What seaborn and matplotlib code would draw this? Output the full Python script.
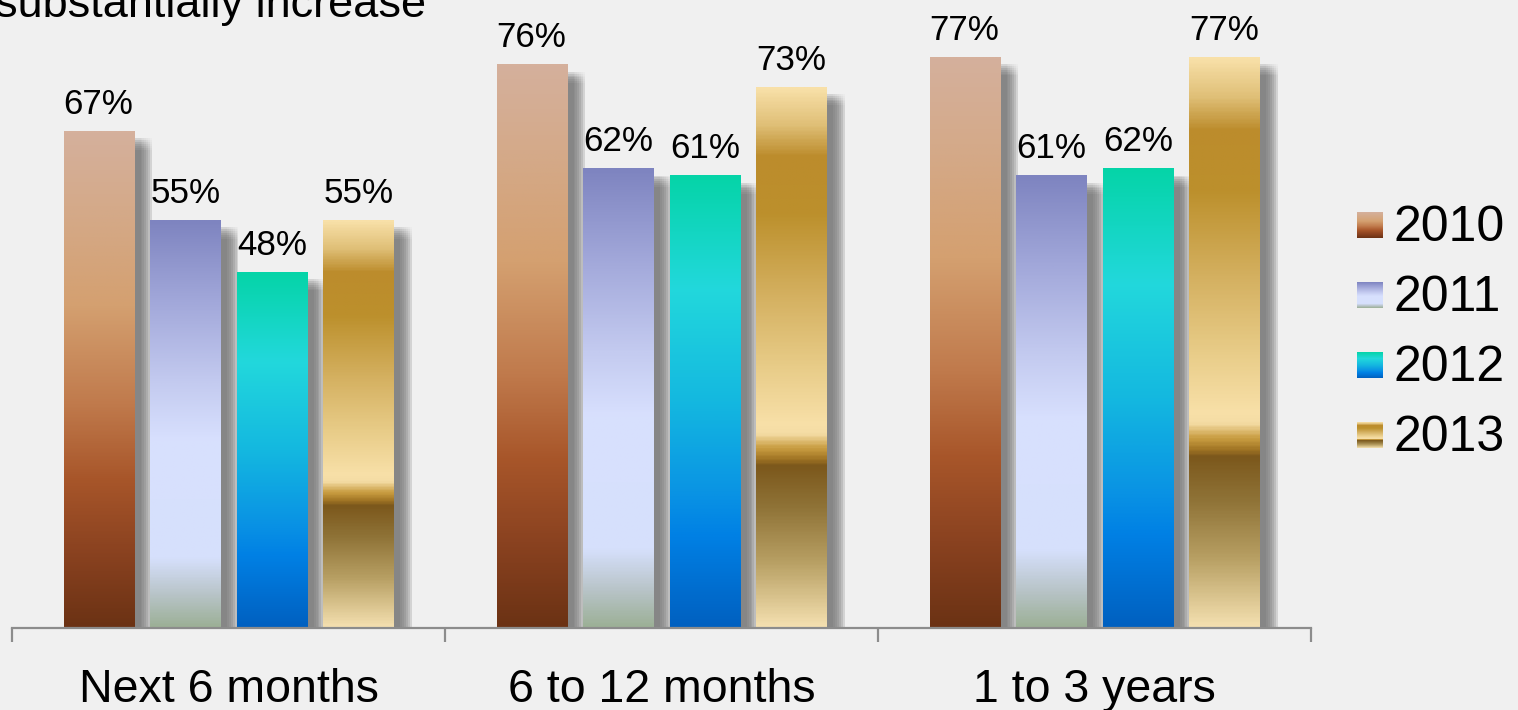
import numpy as np
import pandas as pd
import matplotlib
matplotlib.use("Agg")
import matplotlib.pyplot as plt
import seaborn as sns
from matplotlib.colors import LinearSegmentedColormap
from matplotlib import patheffects as pe
from matplotlib.legend_handler import HandlerBase
from matplotlib.image import BboxImage
from matplotlib.transforms import Bbox, TransformedBbox
from matplotlib.patches import Rectangle

# ---- data -------------------------------------------------------------
periods = ["Next 6 months", "6 to 12 months", "1 to 3 years"]
years = ["2010", "2011", "2012", "2013"]
share_2010 = [67, 76, 77]
share_2011 = [55, 62, 61]
share_2012 = [48, 61, 62]
share_2013 = [55, 73, 77]
series = [share_2010, share_2011, share_2012, share_2013]

df = pd.DataFrame(
    [(p, y, v) for y, vals in zip(years, series) for p, v in zip(periods, vals)],
    columns=["period", "year", "share"],
)

# ---- gradient fills, position 0 = bottom of bar, 1 = top --------------
stops = {
    "2010": [(0.00, "#6b3214"), (0.15, "#8a4220"), (0.30, "#a8562a"),
             (0.45, "#c07a4c"), (0.65, "#d4a070"), (0.85, "#d4aa8a"),
             (1.00, "#d5b09c")],
    "2011": [(0.00, "#9cb096"), (0.08, "#b8c4c8"), (0.17, "#d6e0fc"),
             (0.46, "#d8e0fe"), (0.60, "#c4cbf0"), (0.80, "#a2a8da"),
             (1.00, "#7e84c0")],
    "2012": [(0.00, "#0060c0"), (0.20, "#0080e4"), (0.30, "#0a94e4"),
             (0.50, "#14b8e0"), (0.75, "#22d8dc"), (1.00, "#05d4a8")],
    "2013": [(0.000, "#f4e0b0"), (0.119, "#b8a064"), (0.219, "#907438"),
             (0.298, "#7c581c"), (0.311, "#a07424"), (0.331, "#c89c40"),
             (0.358, "#f4dca4"), (0.377, "#f8e0a8"), (0.483, "#e8cc88"),
             (0.616, "#d4b060"), (0.768, "#bc902c"), (0.874, "#bc8c2c"),
             (0.934, "#e0c078"), (1.000, "#f8e0a8")],
}
cmaps = {y: LinearSegmentedColormap.from_list("fill_" + y, stops[y]) for y in years}
mid_colors = {y: cmaps[y](0.5) for y in years}
ramp = np.linspace(0, 1, 400).reshape(-1, 1)

BG = "#f0f0f0"
AXIS = "#8c8c8c"

sns.set_theme(style="white")
plt.rcParams["font.family"] = ["Liberation Sans", "DejaVu Sans"]

fig = plt.figure(figsize=(15.18, 7.10), dpi=100, facecolor=BG)
ax = fig.add_axes([12 / 1518, 82 / 710, 1299 / 1518, 628 / 710])
ax.set_facecolor(BG)

sns.barplot(data=df, x="period", y="share", hue="year", hue_order=years,
            palette=mid_colors, saturation=1, width=0.8, gap=0.19,
            errorbar=None, legend=False, linewidth=0, ax=ax)

# soft drop shadow built from several faint offset copies
spread = (-4, -2.7, -1.3, 0, 1.3, 2.7, 4)
shadow_fx = [pe.SimplePatchShadow(offset=(9 + dx, -9 + dy),
                                  shadow_rgbFace="#7c7c7c", alpha=0.034)
             for dx in spread for dy in spread]
shadow_fx.append(pe.Normal())

for year, cont in zip(years, ax.containers):
    for bar in cont:
        bar.set_path_effects(shadow_fx)
        x0, w, h = bar.get_x(), bar.get_width(), bar.get_height()
        ax.imshow(ramp, extent=(x0, x0 + w, 0, h), origin="lower",
                  aspect="auto", cmap=cmaps[year], zorder=3,
                  interpolation="bilinear")
    ax.bar_label(cont, fmt="%d%%", padding=7.6, fontsize=25.2,
                 color="black", zorder=6)

ax.set_xlim(-0.5, 2.5)
ax.set_ylim(0, 84.75)

# axis styling
for side in ("left", "right", "top"):
    ax.spines[side].set_visible(False)
ax.spines["bottom"].set_color(AXIS)
ax.spines["bottom"].set_linewidth(1.6)
ax.spines["bottom"].set_zorder(5)
ax.set_yticks([])
ax.set_xticks([0, 1, 2], labels=periods)
ax.set_xticks([-0.5, 0.5, 1.5, 2.5], minor=True)
ax.tick_params(axis="x", which="major", bottom=True, length=0, pad=29,
               labelsize=33.5, labelcolor="black")
ax.tick_params(axis="x", which="minor", bottom=True, length=10, width=1.6,
               color=AXIS, direction="out")
ax.set_xlabel("")
ax.set_ylabel("")
ax.grid(False)

fig.text(-5 / 1518, 1 - 17 / 710, "substantially increase", fontsize=32.5,
         ha="left", va="baseline", color="black")


class GradientSwatch(HandlerBase):
    """Legend key drawn as a small square filled with a vertical gradient."""

    def __init__(self, cmap):
        super().__init__()
        self.cmap = cmap

    def create_artists(self, legend, orig_handle, xdescent, ydescent,
                       width, height, fontsize, trans):
        box = TransformedBbox(Bbox.from_bounds(-xdescent, -ydescent, width, width), trans)
        img = BboxImage(box, cmap=self.cmap, origin="lower",
                        interpolation="bilinear")
        img.set_data(ramp)
        img.set_clim(0, 1)
        return [img]


handles = [Rectangle((0, 0), 1, 1) for _ in years]
fig.legend(handles, years,
           handler_map={h: GradientSwatch(cmaps[y]) for h, y in zip(handles, years)},
           loc="center left", bbox_to_anchor=(1357 / 1518, 1 - 333.5 / 710),
           frameon=False, fontsize=36, labelcolor="black",
           handlelength=0.52, handleheight=0.52,
           handletextpad=0.2, labelspacing=0.48, borderpad=0, borderaxespad=0)

fig.savefig("out.png", dpi=100, facecolor=BG)
